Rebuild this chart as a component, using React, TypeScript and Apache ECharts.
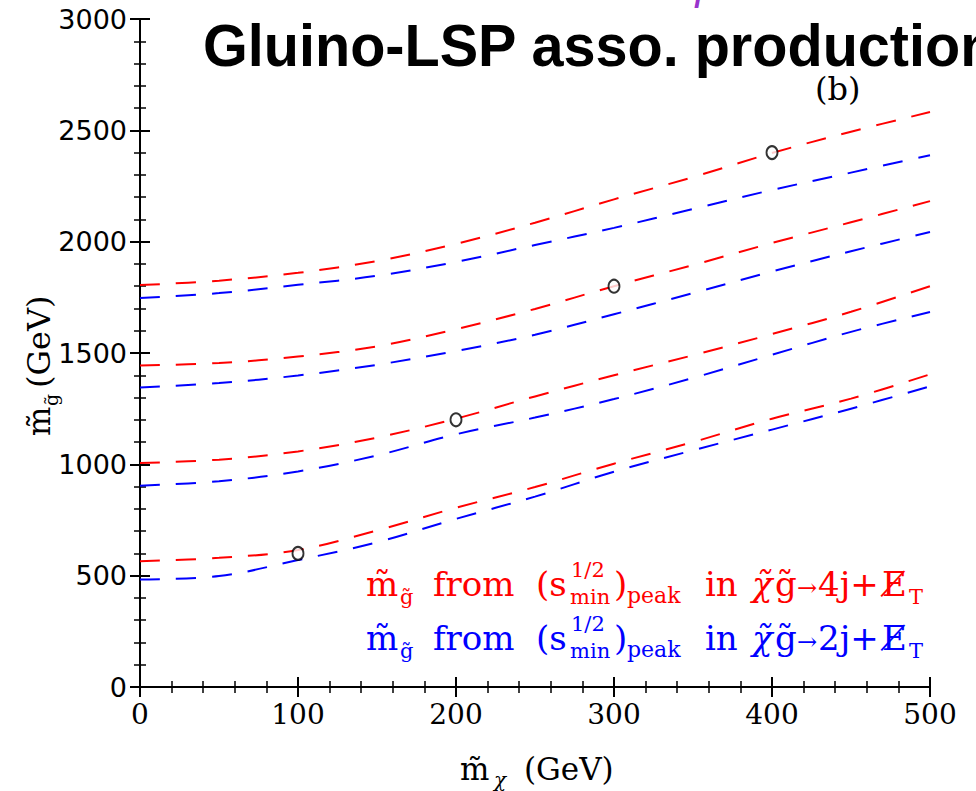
import React, { useEffect, useRef } from "react";
import * as echarts from "echarts";

// ---- data ----
const xs = [0, 50, 100, 150, 200, 250, 300, 350, 400, 450, 500];
const red1 = [1805, 1825, 1860, 1913, 1990, 2085, 2190, 2290, 2398, 2494, 2582];
const blue1 = [1747, 1769, 1806, 1847, 1909, 1985, 2062, 2147, 2232, 2310, 2388];
const red2 = [1444, 1455, 1484, 1530, 1607, 1698, 1800, 1895, 1994, 2087, 2182];
const blue2 = [1345, 1365, 1399, 1447, 1509, 1582, 1674, 1769, 1866, 1957, 2043];
const red3 = [1006, 1021, 1058, 1120, 1205, 1305, 1400, 1490, 1585, 1685, 1800];
const blue3 = [904, 924, 968, 1040, 1135, 1210, 1293, 1388, 1492, 1595, 1684];
const red4 = [565, 580, 615, 703, 805, 898, 1003, 1100, 1205, 1295, 1404];
const blue4 = [483, 498, 570, 650, 755, 855, 967, 1063, 1156, 1250, 1350];
const pointsX = [100, 200, 300, 400];
const pointsY = [600, 1200, 1800, 2400];
const xTicks = { min: 0, max: 500, step: 100 };
const yTicks = { min: 0, max: 3000, step: 500 };

const RED = "#ff0000";
const BLUE = "#0000ff";
const SERIF = '"DejaVu Serif", serif';

function txt(text: string, x: number, base: number, size: number, color: string, opts: any = {}) {
  const font = `${opts.italic ? "italic " : ""}${opts.bold ? "bold " : ""}${size}px ${opts.family || SERIF}`;
  return {
    type: "text",
    x,
    y: base - size * 0.34,
    z: 100,
    silent: true,
    scaleX: opts.scaleX || 1,
    style: {
      text,
      font,
      fill: color,
      align: "left",
      verticalAlign: "middle",
      textAlign: "left",
      textVerticalAlign: "middle",
    },
  };
}

function legendRow(base: number, color: string, njet: string) {
  const sub = base + 8;
  return [
    txt("m\u0303", 366, base, 34, color),
    txt("g\u0303", 400, sub, 21, color),
    txt("from", 433, base, 34, color),
    txt("(s", 536, base, 34, color),
    txt("1/2", 571, base - 19, 21, color),
    txt("min", 570, sub, 21, color),
    txt(")", 614, base, 34, color),
    txt("peak", 627, sub - 1, 22, color),
    txt("in", 705, base, 34, color),
    txt("\u03c7\u0303", 752, base, 34, color, { italic: true }),
    txt("g\u0303", 775, base, 34, color),
    txt("\u2192", 797, base, 24, color),
    txt(njet + "j+", 818, base, 34, color),
    txt("E\u0338", 882, base, 34, color),
    txt("T", 909, sub, 21, color),
  ];
}

function pairs(y: number[]) {
  return xs.map((x, i) => [x, y[i]]);
}

function lineSeries(y: number[], color: string) {
  return {
    type: "line",
    data: pairs(y),
    smooth: 0.35,
    showSymbol: false,
    symbol: "none",
    lineStyle: { color, width: 2, type: [20, 16] },
    z: 2,
  };
}

export default function App() {
  const ref = useRef<HTMLDivElement>(null);
  useEffect(() => {
    if (!ref.current) return;
    const chart = echarts.init(ref.current, undefined, { renderer: "svg" });
    const axisCommon = {
      type: "value",
      splitLine: { show: false },
      axisLine: { show: true, lineStyle: { color: "#000", width: 2 } },
      axisTick: { show: true, inside: true, length: 10, lineStyle: { color: "#000", width: 2 } },
      minorTick: { show: true, splitNumber: 5, length: 6, lineStyle: { color: "#000", width: 1.5 } },
    };
    const graphics: any[] = [
      txt("Gluino-LSP asso. production", 203, 65, 60, "#000", {
        bold: true,
        family: '"Liberation Sans", Arial, sans-serif',
        scaleX: 0.96,
      }),
      txt("(b)", 815, 100, 32, "#000"),
      txt("I", 694, 8, 26, "#9933cc", { italic: true, family: '"Liberation Sans", sans-serif', bold: true }),
      ...legendRow(596, RED, "4"),
      ...legendRow(650, BLUE, "2"),
      // x axis title
      txt("m\u0303", 460, 780, 31, "#000"),
      txt("\u03c7", 494, 787, 20, "#000", { italic: true }),
      txt("(GeV)", 524, 780, 31, "#000"),
      // y axis title (rotated)
      {
        type: "group",
        x: 50,
        y: 436,
        rotation: Math.PI / 2,
        children: [
          txt("m\u0303", 0, 0, 31, "#000"),
          txt("g\u0303", 30, 7, 19, "#000"),
          txt("(GeV)", 48, 0, 32, "#000"),
        ],
      },
    ];
    chart.setOption({
      animation: false,
      backgroundColor: "#fff",
      grid: { left: 140, right: 46, top: 19, bottom: 104, containLabel: false },
      xAxis: [
        {
          ...axisCommon,
          position: "bottom",
          min: xTicks.min,
          max: xTicks.max,
          interval: xTicks.step,
          axisLabel: { color: "#000", fontFamily: SERIF, fontSize: 28, margin: 13 },
        },
        {
          ...axisCommon,
          position: "top",
          min: xTicks.min,
          max: xTicks.max,
          interval: xTicks.step,
          axisLabel: { show: false },
        },
      ],
      yAxis: [
        {
          ...axisCommon,
          position: "left",
          min: yTicks.min,
          max: yTicks.max,
          interval: yTicks.step,
          axisLabel: {
            color: "#000",
            fontFamily: '"DejaVu Sans", sans-serif',
            fontSize: 27,
            margin: 13,
            formatter: (v: number) => String(v),
          },
        },
        {
          ...axisCommon,
          position: "right",
          min: yTicks.min,
          max: yTicks.max,
          interval: yTicks.step,
          axisLabel: { show: false },
        },
      ],
      series: [
        lineSeries(red1, RED),
        lineSeries(blue1, BLUE),
        lineSeries(red2, RED),
        lineSeries(blue2, BLUE),
        lineSeries(red3, RED),
        lineSeries(blue3, BLUE),
        lineSeries(red4, RED),
        lineSeries(blue4, BLUE),
        {
          type: "scatter",
          data: pointsX.map((x, i) => [x, pointsY[i]]),
          symbol: "circle",
          symbolSize: [11, 13],
          itemStyle: { color: "#fff", borderColor: "#000", borderWidth: 2 },
          z: 5,
        },
      ],
      graphic: graphics,
    });
    return () => chart.dispose();
  }, []);
  return (
    <div
      ref={ref}
      style={{ position: "absolute", left: 0, top: 0, width: 976, height: 791, background: "#fff" }}
    />
  );
}
